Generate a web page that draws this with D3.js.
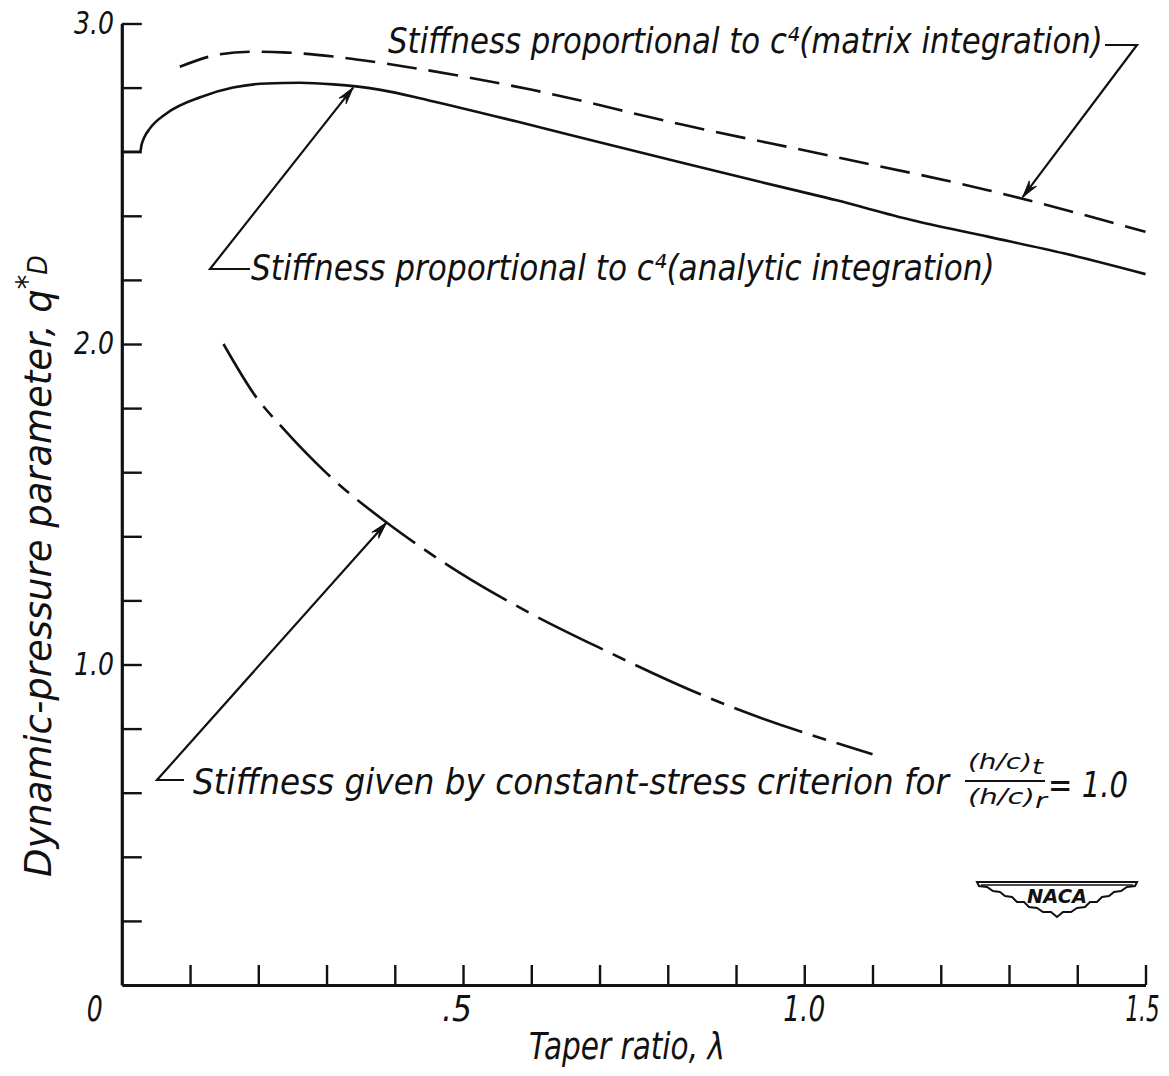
<!DOCTYPE html>
<html>
<head>
<meta charset="utf-8">
<script src="https://cdn.jsdelivr.net/npm/d3@7"></script>
<style>
  html, body { margin: 0; padding: 0; background: #fff; }
  svg { display: block; }
  text { font-family: "DejaVu Sans", "Liberation Sans", sans-serif; font-style: italic; fill: #111; }
</style>
</head>
<body>
<svg id="chart" width="1169" height="1076"></svg>
<script>
// Stiffness proportional to c^4, analytic integration (solid)
const analyticLambda = [0, 0.027, 0.029, 0.033, 0.041, 0.066, 0.115, 0.163, 0.212, 0.261, 0.31, 0.379, 0.45, 0.579, 0.697, 0.824, 0.935, 1.046, 1.157, 1.269, 1.38, 1.5];
const analyticQ      = [2.6, 2.6, 2.622, 2.645, 2.672, 2.72, 2.77, 2.80, 2.813, 2.815, 2.81, 2.793, 2.76, 2.694, 2.631, 2.564, 2.506, 2.449, 2.387, 2.335, 2.283, 2.218];

// Stiffness proportional to c^4, matrix integration (dashed)
const matrixLambda = [0.085, 0.139, 0.188, 0.236, 0.31, 0.383, 0.601, 0.824, 1.045, 1.269, 1.5];
const matrixQ      = [2.865, 2.902, 2.912, 2.91, 2.897, 2.876, 2.793, 2.683, 2.584, 2.48, 2.35];

// Stiffness from constant-stress criterion, (h/c)t/(h/c)r = 1.0 (long-short dash)
const stressLambda = [0.149, 0.198, 0.234, 0.30, 0.388, 0.437, 0.496, 0.594, 0.701, 0.868, 1.1];
const stressQ      = [2.0, 1.831, 1.742, 1.597, 1.443, 1.368, 1.285, 1.165, 1.051, 0.889, 0.72];

// Axis ticks and labels
const xTickValues = [0.1, 0.2, 0.3, 0.4, 0.5, 0.6, 0.7, 0.8, 0.9, 1.0, 1.1, 1.2, 1.3, 1.4, 1.5];
const xTickLabelValues = [0, 0.5, 1.0, 1.5];
const xTickLabelText   = ["0", ".5", "1.0", "1.5"];
const yTickValues = [0.2, 0.4, 0.6, 0.8, 1.0, 1.2, 1.4, 1.6, 1.8, 2.0, 2.2, 2.4, 2.6, 2.8, 3.0];
const yTickLabelValues = [1.0, 2.0, 3.0];
const yTickLabelText   = ["1.0", "2.0", "3.0"];

const ink = "#111";
const svg = d3.select("#chart");

const x = d3.scaleLinear().domain([0, 1.5]).range([121.8, 1145.5]);
const y = d3.scaleLinear().domain([0, 3.0]).range([985, 23.5]);

// Narrow lettering: draw a text at its natural size, then squeeze it
// horizontally so it spans `width` px starting at (x0, y0).
function fitText(sel, x0, y0, width, extra = "") {
  const natural = sel.node().getComputedTextLength() || width;
  sel.attr("transform", `translate(${x0},${y0}) ${extra} scale(${width / natural},1)`);
  return sel;
}
function label(str, size, x0, y0, width, extra) {
  const t = svg.append("text").attr("font-size", size).text(str);
  return fitText(t, x0, y0, width, extra);
}

// ---- axes: ticks point into the plot ----
const yAxis = d3.axisRight(y).tickValues(yTickValues).tickSize(20).tickSizeOuter(0).tickFormat("");
const gy = svg.append("g").attr("transform", `translate(${x(0)},0)`).call(yAxis);
const xAxis = d3.axisTop(x).tickValues(xTickValues).tickSize(20).tickSizeOuter(0).tickFormat("");
const gx = svg.append("g").attr("transform", `translate(0,${y(0)})`).call(xAxis);
[gx, gy].forEach(g => {
  g.select(".domain").attr("stroke", ink).attr("stroke-width", 3.2);
  g.selectAll(".tick line").attr("stroke", ink).attr("stroke-width", 2.4);
});

// tick labels
yTickLabelValues.forEach((v, i) => label(yTickLabelText[i], 32, 74, y(v) + 10, 40));

const xLabelShift = [-27, -6, 0, -3];
const xLabelWidth = [16, 30, 42, 34];
xTickLabelValues.forEach((v, i) =>
  label(xTickLabelText[i], 36, x(v) + xLabelShift[i] - xLabelWidth[i] / 2, 1021, xLabelWidth[i]));

// axis titles
label("Taper ratio, λ", 38, 529, 1059, 196);

const yTitle = svg.append("text").attr("font-size", 38);
yTitle.append("tspan").text("Dynamic-pressure parameter, ");
yTitle.append("tspan").text("q");
yTitle.append("tspan").attr("font-size", 30).attr("dy", -14).text("*");
yTitle.append("tspan").attr("font-size", 26).attr("dy", 10).text("D");
fitText(yTitle, 51, 877, 622, "rotate(-90)");

// ---- curves ----
const line = d3.line().x(d => x(d[0])).y(d => y(d[1])).curve(d3.curveMonotoneX);
const zip = (a, b) => a.map((v, i) => [v, b[i]]);

svg.append("path").datum(zip(analyticLambda, analyticQ))
  .attr("d", line).attr("fill", "none").attr("stroke", ink).attr("stroke-width", 2.6);

svg.append("path").datum(zip(matrixLambda, matrixQ))
  .attr("d", line).attr("fill", "none").attr("stroke", ink).attr("stroke-width", 2.6)
  .attr("stroke-dasharray", "30,12");

svg.append("path").datum(zip(stressLambda, stressQ))
  .attr("d", line).attr("fill", "none").attr("stroke", ink).attr("stroke-width", 2.6)
  .attr("stroke-dasharray", "72,11,14,11").attr("stroke-dashoffset", 9);

// ---- leader lines with arrowheads ----
function leader(points) {
  svg.append("path")
    .attr("d", d3.line()(points))
    .attr("fill", "none").attr("stroke", ink).attr("stroke-width", 2.2);
  const [x0, y0] = points[points.length - 2];
  const [x1, y1] = points[points.length - 1];
  const ang = Math.atan2(y1 - y0, x1 - x0);
  const len = 17, half = 4.5;
  const bx = x1 - len * Math.cos(ang), by = y1 - len * Math.sin(ang);
  const px = -Math.sin(ang) * half, py = Math.cos(ang) * half;
  svg.append("path")
    .attr("d", `M${x1},${y1}L${bx + px},${by + py}L${x1 - 11 * Math.cos(ang)},${y1 - 11 * Math.sin(ang)}L${bx - px},${by - py}Z`)
    .attr("fill", ink).attr("stroke", ink).attr("stroke-width", 1);
}

// analytic curve note: arrow meets the solid curve
leader([[250, 269], [210, 269], [x(0.339), y(2.80)]]);
// matrix curve note: arrow meets the dashed curve
leader([[1105, 45], [1137, 45], [x(1.32), y(2.458)]]);
// constant-stress note: arrow meets the lower curve
leader([[184, 780], [157, 780], [x(0.388), y(1.443)]]);

// ---- annotation texts ----
label("Stiffness proportional to c⁴(matrix integration)", 35, 388, 53, 715);
label("Stiffness proportional to c⁴(analytic  integration)", 35, 251, 280, 744);
label("Stiffness given by constant-stress  criterion for", 35, 193, 794, 756);

// ratio (h/c)t / (h/c)r = 1.0
const num = svg.append("text").attr("font-size", 22);
num.append("tspan").text("(h/c)");
num.append("tspan").attr("dy", 5).text("t");
fitText(num, 968, 769, 75);
svg.append("line").attr("x1", 965).attr("x2", 1045).attr("y1", 781).attr("y2", 781)
  .attr("stroke", ink).attr("stroke-width", 2);
const den = svg.append("text").attr("font-size", 22);
den.append("tspan").text("(h/c)");
den.append("tspan").attr("dy", 4).text("r");
fitText(den, 968, 804, 79);
label("= 1.0", 35, 1048, 797, 80);

// ---- NACA wing emblem ----
const logo = svg.append("g").attr("transform", "translate(1057,896)");
logo.append("path")
  .attr("d", "M-80,-14 L80,-14 L78,-10 L70,-9 L64,-5 L57,-4 L52,0 L45,1 L40,6 L33,6 L28,11 L20,12 L14,16 L6,16 L0,21 L-6,16 L-14,16 L-20,12 L-28,11 L-33,6 L-40,6 L-45,1 L-52,0 L-57,-4 L-64,-5 L-70,-9 L-78,-10 Z")
  .attr("fill", "#fff").attr("stroke", ink).attr("stroke-width", 2);
logo.append("path").attr("d", "M-76,-11 L76,-11").attr("stroke", ink).attr("stroke-width", 1.5);
logo.append("text").attr("x", 0).attr("y", 7).attr("text-anchor", "middle")
  .attr("font-size", 19).attr("font-style", "normal").attr("font-weight", "bold")
  .attr("textLength", 60).attr("lengthAdjust", "spacingAndGlyphs")
  .text("NACA");
</script>
</body>
</html>
